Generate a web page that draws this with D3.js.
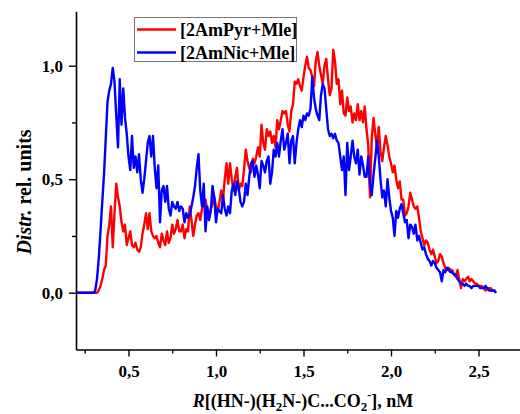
<!DOCTYPE html>
<html><head><meta charset="utf-8">
<script src="https://cdn.jsdelivr.net/npm/d3@7"></script>
<style>html,body{margin:0;padding:0;background:#fff;}svg{display:block;}</style>
</head><body>
<svg id="chart" width="520" height="414"></svg>
<script>
const rStart = 0.20, rStep = 0.01;
const seriesNames = ["[2AmPyr+Mle]", "[2AmNic+Mle]"];
const seriesColors = ["#ff0000", "#0000ff"];
const redValues = [
0,0,0,0,0,0,0,0,0,0,0,0,0,
0.01,0.03,0.06,0.10,0.12,0.25,0.30,
0.38,0.20,0.35,0.48,0.42,0.38,0.31,0.27,0.30,0.21,
0.24,0.27,0.21,0.20,0.22,0.19,0.18,0.20,0.26,0.30,
0.35,0.28,0.35,0.27,0.25,0.24,0.25,0.22,0.20,0.26,
0.23,0.21,0.27,0.22,0.24,0.30,0.26,0.28,0.32,0.27,
0.27,0.30,0.24,0.28,0.27,0.38,0.32,0.25,0.30,0.34,
0.35,0.32,0.37,0.39,0.41,0.36,0.34,0.37,0.39,0.42,
0.38,0.36,0.40,0.45,0.41,0.50,0.57,0.48,0.57,0.50,
0.45,0.51,0.55,0.45,0.48,0.47,0.54,0.63,0.58,0.55,
0.53,0.59,0.57,0.60,0.64,0.60,0.74,0.66,0.63,0.72,
0.69,0.71,0.66,0.69,0.64,0.76,0.72,0.76,0.80,0.79,
0.80,0.74,0.71,0.80,0.83,0.93,0.92,0.94,0.91,0.89,
0.95,1.00,1.04,0.99,0.98,0.95,0.91,1.02,1.06,1.00,
0.96,0.92,1.00,1.03,0.94,0.87,0.90,1.07,1.02,0.92,
0.94,0.83,0.89,0.79,0.78,0.86,0.80,0.82,0.75,0.79,
0.76,0.83,0.76,0.80,0.75,0.82,0.72,0.65,0.42,0.68,
0.77,0.70,0.64,0.73,0.62,0.58,0.64,0.69,0.65,0.60,
0.57,0.53,0.56,0.50,0.46,0.49,0.41,0.41,0.34,0.35,
0.38,0.44,0.41,0.38,0.37,0.38,0.33,0.27,0.24,0.21,
0.23,0.22,0.19,0.17,0.19,0.16,0.13,0.14,0.17,0.16,
0.13,0.11,0.10,0.11,0.10,0.10,0.08,0.07,0.10,0.06,
0.02,0.06,0.05,0.06,0.07,0.05,0.06,0.05,0.04,0.04,
0.03,0.03,0.03,0.02,0.01,0.02,0.02,0.02,0.01,0.01,0.00
];
const blueValues = [
0,0,0,0,0,0,0,0,0,0,0,
0.01,0.06,0.15,0.27,0.40,0.52,0.68,0.84,0.89,
0.92,0.99,0.93,0.78,0.64,0.94,0.74,0.90,0.77,0.70,
0.60,0.54,0.69,0.55,0.60,0.53,0.61,0.50,0.44,0.50,
0.58,0.66,0.69,0.60,0.69,0.55,0.46,0.56,0.31,0.45,
0.47,0.40,0.47,0.37,0.34,0.40,0.38,0.37,0.40,0.36,
0.38,0.37,0.31,0.35,0.33,0.34,0.38,0.42,0.47,0.55,
0.61,0.45,0.38,0.48,0.27,0.38,0.32,0.36,0.47,0.42,
0.31,0.37,0.36,0.35,0.43,0.37,0.34,0.38,0.35,0.45,
0.48,0.43,0.49,0.46,0.40,0.38,0.40,0.48,0.43,0.51,
0.57,0.58,0.51,0.56,0.52,0.46,0.58,0.56,0.53,0.58,
0.60,0.48,0.53,0.63,0.60,0.66,0.60,0.67,0.72,0.63,
0.66,0.70,0.57,0.67,0.69,0.57,0.66,0.72,0.76,0.73,
0.78,0.76,0.79,0.78,0.81,0.95,0.86,0.81,0.78,0.76,
0.87,0.92,0.90,0.81,0.72,0.69,0.70,0.68,0.70,0.67,
0.66,0.60,0.54,0.60,0.43,0.66,0.54,0.60,0.67,0.60,
0.57,0.63,0.52,0.60,0.56,0.51,0.51,0.60,0.48,0.43,
0.52,0.59,0.67,0.60,0.50,0.42,0.45,0.38,0.50,0.42,
0.36,0.33,0.25,0.36,0.33,0.37,0.39,0.35,0.31,0.32,
0.24,0.30,0.29,0.26,0.30,0.23,0.25,0.22,0.19,0.20,
0.17,0.15,0.14,0.12,0.14,0.13,0.11,0.10,0.09,0.05,
0.10,0.09,0.11,0.10,0.09,0.09,0.08,0.08,0.06,0.05,
0.04,0.04,0.03,0.04,0.03,0.03,0.02,0.03,0.03,0.03,
0.03,0.02,0.02,0.02,0.03,0.02,0.01,0.01,0.01,0.01,0.00
];
const xMajorTicks = [0.5, 1.0, 1.5, 2.0, 2.5];
const xMinorTicks = [0.25, 0.75, 1.25, 1.75, 2.25];
const yMajorTicks = [0.0, 0.5, 1.0];
const yMinorTicks = [0.25, 0.75];

const svg = d3.select("#chart");
const FONT = "'Liberation Serif','Times New Roman',serif";
const x = d3.scaleLinear().domain([0.2, 2.75]).range([76, 522.25]);
const y = d3.scaleLinear().domain([-0.25, 1.24]).range([349.45, 11.2]);
const fmt = d => d3.format(".1f")(d).replace(".", ",");

// series
const series = [redValues, blueValues];
const line = d3.line().x((d, i) => x(rStart + i * rStep)).y(d => y(d));
series.forEach((vals, k) => {
  svg.append("path").datum(vals)
    .attr("d", line).attr("fill", "none")
    .attr("stroke", seriesColors[k]).attr("stroke-width", 2.4)
    .attr("stroke-linejoin", "round");
});

// axes
const xAxisG = svg.append("g").attr("transform", `translate(0,${y(-0.25)})`)
  .call(d3.axisBottom(x).tickValues(xMajorTicks).tickSize(7).tickSizeOuter(0).tickFormat(fmt));
svg.append("g").attr("transform", `translate(0,${y(-0.25)})`)
  .call(d3.axisBottom(x).tickValues(xMinorTicks).tickSize(4).tickSizeOuter(0).tickFormat(""))
  .select(".domain").remove();
const yAxisG = svg.append("g").attr("transform", `translate(${x(0.2)},0)`)
  .call(d3.axisLeft(y).tickValues(yMajorTicks).tickSize(7).tickSizeOuter(0).tickFormat(fmt));
svg.append("g").attr("transform", `translate(${x(0.2)},0)`)
  .call(d3.axisLeft(y).tickValues(yMinorTicks).tickSize(4).tickSizeOuter(0).tickFormat(""))
  .select(".domain").remove();

svg.selectAll(".domain").attr("stroke", "#000").attr("stroke-width", 1.6);
svg.selectAll(".tick line").attr("stroke", "#000").attr("stroke-width", 1.4);
xAxisG.selectAll("text").attr("font-family", FONT).attr("font-size", 17).attr("font-weight", "bold")
  .attr("fill", "#000").attr("y", 15).attr("dy", "0.71em");
yAxisG.selectAll("text").attr("font-family", FONT).attr("font-size", 17).attr("font-weight", "bold")
  .attr("fill", "#000").attr("x", -13);

// axis titles
const yt = svg.append("text").attr("transform", "translate(31,192) rotate(-90)")
  .attr("text-anchor", "middle").attr("font-family", FONT).attr("font-size", 20).attr("font-weight", "bold");
yt.append("tspan").attr("font-style", "italic").text("Distr.");
yt.append("tspan").text(" rel. units");

const xt = svg.append("text").attr("x", 303).attr("y", 407)
  .attr("text-anchor", "middle").attr("font-family", FONT).attr("font-size", 18).attr("font-weight", "bold");
xt.append("tspan").attr("font-style", "italic").text("R");
xt.append("tspan").text("[(HN-)(H");
xt.append("tspan").attr("font-size", 13).attr("dy", 4).text("2");
xt.append("tspan").attr("dy", -4).text("N-)C...CO");
xt.append("tspan").attr("font-size", 13).attr("dy", 4).text("2");
xt.append("tspan").attr("font-size", 12).attr("dy", -12).text("-");
xt.append("tspan").attr("dy", 8).text("], nM");

// legend
const lg = svg.append("g");
lg.append("rect").attr("x", 134.5).attr("y", 17.5).attr("width", 162).attr("height", 44)
  .attr("fill", "#fff").attr("stroke", "#777").attr("stroke-width", 1);
seriesNames.forEach((name, k) => {
  const ly = 29.5 + k * 23;
  lg.append("line").attr("x1", 137).attr("x2", 176).attr("y1", ly).attr("y2", ly)
    .attr("stroke", seriesColors[k]).attr("stroke-width", 2.5);
  lg.append("text").attr("x", 180).attr("y", ly + 6).attr("font-family", FONT)
    .attr("font-size", 18).attr("font-weight", "bold").attr("fill", "#000").text(name);
});
</script>
</body></html>
